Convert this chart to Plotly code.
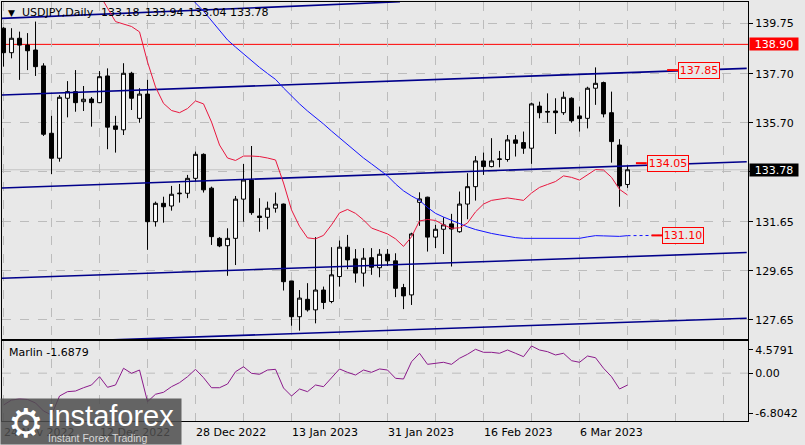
import plotly.graph_objects as go
import pandas as pd

# ---------------- data ----------------
dates = pd.bdate_range("2022-11-24", "2023-03-14")  # daily bars (Mon-Fri)

open_ = [139.56, 138.56, 139.15, 138.87, 138.67, 138.02, 135.27, 134.25, 136.70, 136.97,
         136.56, 136.67, 136.52, 137.61, 135.57, 135.41, 137.72, 135.88, 136.87, 131.66,
         132.41, 132.30, 132.80, 132.82, 133.43, 134.41, 133.03, 130.98, 130.68, 130.98,
         132.58, 133.36, 131.89, 131.84, 132.21, 132.38, 129.24, 127.78, 128.49, 128.06,
         128.87, 128.40, 129.42, 130.62, 130.14, 129.56, 130.19, 129.78, 130.33, 130.06,
         128.97, 128.67, 132.45, 132.66, 131.03, 131.35, 131.57, 131.25, 132.38, 133.09,
         134.14, 133.91, 134.20, 134.20, 135.00, 134.89, 134.66, 136.38, 136.13, 136.18,
         136.11, 136.70, 135.98, 135.88, 137.11, 137.34, 136.11, 134.79, 133.18]
high = [139.60, 139.56, 139.42, 139.36, 139.83, 138.13, 135.98, 136.83, 137.40, 137.85,
        137.20, 136.75, 137.81, 137.92, 135.98, 138.13, 137.78, 137.11, 137.45, 132.48,
        132.68, 133.12, 133.20, 133.57, 134.52, 134.45, 133.09, 131.03, 131.39, 132.71,
        134.02, 134.75, 132.62, 132.48, 132.85, 132.40, 129.24, 128.87, 129.15, 131.03,
        129.01, 130.62, 130.89, 131.12, 130.54, 130.58, 130.58, 130.54, 130.54, 130.37,
        129.12, 131.21, 132.86, 132.68, 131.53, 131.84, 131.98, 132.89, 133.64, 134.34,
        134.48, 135.07, 134.55, 135.20, 135.20, 135.34, 136.52, 136.56, 136.90, 136.70,
        136.97, 136.74, 136.36, 137.17, 137.96, 137.38, 136.97, 135.03, 133.94]
low = [137.99, 138.33, 137.45, 137.85, 137.61, 135.16, 133.60, 134.11, 135.92, 136.15,
       136.18, 135.54, 136.50, 134.62, 134.48, 135.20, 136.22, 135.70, 130.51, 131.46,
       131.62, 132.11, 132.44, 132.62, 133.30, 132.85, 130.71, 130.62, 129.45, 129.89,
       131.66, 131.94, 131.25, 131.35, 132.03, 128.85, 127.41, 127.21, 127.99, 127.51,
       128.09, 128.33, 129.01, 129.72, 129.17, 129.01, 129.49, 129.39, 129.85, 128.58,
       128.09, 128.26, 131.49, 130.44, 130.58, 130.34, 129.83, 131.21, 131.76, 132.52,
       133.57, 133.88, 133.88, 134.11, 134.32, 134.43, 134.02, 135.88, 135.70, 135.24,
       136.02, 135.70, 135.34, 135.47, 136.43, 135.92, 134.07, 132.27, 133.04]
close = [138.56, 139.15, 138.87, 138.64, 137.99, 135.23, 134.25, 136.74, 136.97, 136.52,
         136.66, 136.52, 137.58, 135.52, 135.43, 137.72, 136.70, 136.87, 131.66, 132.41,
         132.27, 132.78, 132.82, 133.43, 134.41, 132.96, 131.05, 130.67, 130.98, 132.58,
         133.36, 132.03, 131.83, 132.21, 132.38, 129.21, 127.78, 128.54, 128.06, 128.87,
         128.36, 129.49, 130.62, 130.10, 129.56, 130.17, 129.80, 130.33, 130.06, 128.94,
         128.63, 131.16, 132.59, 131.03, 131.35, 131.53, 131.36, 132.38, 133.09, 134.14,
         133.91, 134.14, 134.22, 135.00, 134.86, 134.66, 136.47, 136.11, 136.16, 136.11,
         136.74, 135.78, 135.87, 137.11, 137.31, 136.06, 134.93, 133.12, 133.78]

ma_red = [None] * 11 + [
    141.50, 140.92, 140.38, 139.83, 139.73, 139.63, 139.41, 138.18, 137.16, 136.49,
    136.20, 136.11, 136.28, 136.59, 136.47, 135.73, 134.79, 134.26, 134.16, 134.34,
    134.34, 134.32, 134.26, 134.18, 133.24, 132.14, 131.47, 131.00, 130.96, 131.10,
    131.53, 132.02, 132.16, 132.00, 131.73, 131.40, 131.28, 131.16, 130.96, 130.65,
    131.04, 131.69, 131.75, 131.71, 131.53, 131.39, 131.41, 131.61, 132.06, 132.38,
    132.53, 132.59, 132.63, 132.58, 132.53, 132.83, 133.06, 133.18, 133.30, 133.53,
    133.47, 133.36, 133.57, 133.79, 133.77, 133.47, 132.98, 132.75]

ma_blue = [None] * 23 + [
    141.00, 140.59, 140.26, 139.87, 139.49, 139.08, 138.79, 138.51, 138.22, 137.96,
    137.71, 137.47, 137.12, 136.79, 136.47, 136.18, 135.92, 135.65, 135.36, 135.08,
    134.79, 134.55, 134.26, 134.02, 133.77, 133.53, 133.20, 132.92, 132.71, 132.53,
    132.24, 132.00, 131.85, 131.71, 131.57, 131.45, 131.34, 131.25, 131.18, 131.12,
    131.06, 131.01, 130.98, 130.98, 130.98, 130.98, 130.98, 130.98, 130.98, 130.98,
    131.04, 131.09, 131.08, 131.06, 131.06, 131.09]

marlin = [-4.53, -3.82, -3.67, -3.74, -4.24, -5.38, -5.95, -3.25, -2.63, -2.54,
          -2.07, -1.68, -0.50, -2.01, -1.68, 0.70, -0.02, 0.45, -4.06, -3.00,
          -2.72, -1.92, -1.35, -0.50, 0.55, -0.64, -2.07, -2.07, -1.54, 0.21,
          0.92, -0.02, -0.16, 0.45, 0.55, -2.11, -3.25, -2.25, -2.63, -1.68,
          -1.92, -0.64, 0.60, 0.12, -0.26, 0.45, 0.12, 0.60, 0.45, -0.73,
          -0.83, 1.63, 2.83, 1.26, 1.41, 1.55, 1.26, 2.12, 2.69, 3.40,
          2.97, 2.97, 2.83, 3.30, 2.83, 2.35, 3.87, 3.30, 3.06, 2.59,
          2.83, 1.78, 1.55, 2.44, 2.20, 0.70, -0.50, -2.25, -1.6879]

date_ticks = ["24 Nov 2022", "12 Dec 2022", "28 Dec 2022", "13 Jan 2023",
              "31 Jan 2023", "16 Feb 2023", "6 Mar 2023"]
price_ticks = [127.65, 129.65, 131.65, 133.70, 135.70, 137.70, 139.75]
price_tick_text = ["127.65", "129.65", "131.65", "", "135.70", "137.70", "139.75"]
marlin_scale = [4.5791, 0.00, -6.8042]

level_red = 138.90
bid = 133.78
target_labels = [137.85, 134.05, 131.10]

# channel trend lines: (bar start, price start, bar end, price end)
channel_lines = [
    (-0.44, 139.96, 49.56, 140.64),
    (-0.44, 136.83, 92.9, 137.92),
    (-0.44, 133.03, 92.9, 134.11),
    (-0.44, 129.35, 92.9, 130.40),
    (-0.44, 126.68, 92.9, 127.72),
]

# ---------------- figure ----------------
BG = "#E8E8E8"
GRID = "#BCBCBC"
FONT = "DejaVu Sans"
NAVY = "#00008B"

W, H = 805, 445
L, R, T, B = 2, 748, 2, 421  # plot area in pixels
PW, PH = R - L, B - T


def px(xp):
    return (xp - L) / PW


def py(yp):
    return (B - yp) / PH


idx = list(range(len(dates)))
last = idx[-1]
tick_pos = [dates.get_loc(pd.Timestamp(d)) for d in date_ticks]
grid_pos = list(range(0, 96, 6))
xrange_ = [-0.19, 93.06]

fig = go.Figure()

fig.add_trace(go.Candlestick(
    x=idx, open=open_, high=high, low=low, close=close,
    increasing=dict(line=dict(color="black", width=1), fillcolor="white"),
    decreasing=dict(line=dict(color="black", width=1), fillcolor="black"),
    whiskerwidth=0, showlegend=False, hoverinfo="skip", xaxis="x", yaxis="y"))

for (x0, p0, x1, p1) in channel_lines:
    fig.add_trace(go.Scatter(x=[x0, x1], y=[p0, p1], mode="lines",
                             line=dict(color=NAVY, width=1.6), showlegend=False,
                             hoverinfo="skip", xaxis="x", yaxis="y"))

fig.add_trace(go.Scatter(x=idx, y=ma_blue, mode="lines",
                         line=dict(color="#1414FF", width=1), showlegend=False,
                         hoverinfo="skip", xaxis="x", yaxis="y"))
fig.add_trace(go.Scatter(x=idx, y=ma_red, mode="lines",
                         line=dict(color="#E8173F", width=1), showlegend=False,
                         hoverinfo="skip", xaxis="x", yaxis="y"))

# projection of the blue MA
fig.add_trace(go.Scatter(x=[last, last + 4], y=[ma_blue[-1], target_labels[2]], mode="lines",
                         line=dict(color="#1414FF", width=1, dash="dot"), showlegend=False,
                         hoverinfo="skip", xaxis="x", yaxis="y"))

# red leader segments + labels
label_left = [last + 6.3, last + 2.4, last + 4.35]
for val, xl in zip(target_labels, label_left):
    fig.add_trace(go.Scatter(x=[xl - 1.35, xl], y=[val, val], mode="lines",
                             line=dict(color="#FF0000", width=2), showlegend=False,
                             hoverinfo="skip", xaxis="x", yaxis="y"))
    fig.add_annotation(x=xl, y=val, xref="x", yref="y", text=f"{val:.2f}",
                       showarrow=False, xanchor="left", yanchor="middle",
                       font=dict(family=FONT, size=11, color="#FF0000"),
                       bgcolor=BG, bordercolor="#FF0000", borderwidth=1,
                       borderpad=1, width=38, height=13)

fig.add_trace(go.Scatter(x=idx, y=marlin, mode="lines",
                         line=dict(color="#8B1A8B", width=1), showlegend=False,
                         hoverinfo="skip", xaxis="x2", yaxis="y2"))

shapes = [
    dict(type="line", xref="paper", yref="y", x0=0, x1=1, y0=level_red, y1=level_red,
         line=dict(color="#FF0000", width=1), layer="below"),
    dict(type="line", xref="paper", yref="y", x0=0, x1=1, y0=bid, y1=bid,
         line=dict(color="#C4C4C4", width=1), layer="below"),
    dict(type="line", xref="paper", yref="y2", x0=0, x1=1, y0=0, y1=0,
         line=dict(color=GRID, width=1, dash="dash"), layer="below"),
]

axis_common = dict(showline=True, mirror=True, linecolor="black", linewidth=1,
                   zeroline=False, fixedrange=True)

fig.update_layout(
    width=W, height=H,
    margin=dict(l=L, r=W - R, t=T, b=H - B, pad=0),
    paper_bgcolor=BG, plot_bgcolor=BG,
    font=dict(family=FONT, size=11, color="black"),
    showlegend=False,
    shapes=shapes,
    xaxis=dict(domain=[0, 1], anchor="y", range=xrange_, tickvals=grid_pos,
               showticklabels=False, ticks="", showgrid=True, gridcolor=GRID,
               griddash="dash", gridwidth=1, rangeslider=dict(visible=False),
               **axis_common),
    yaxis=dict(domain=[py(339), 1], anchor="x", side="right",
               range=[126.87, 140.63], tickvals=price_ticks, ticktext=price_tick_text,
               ticks="outside", ticklen=4, tickcolor="black", showgrid=True,
               gridcolor=GRID, griddash="dash", gridwidth=1,
               tickfont=dict(family=FONT, size=11, color="black"), **axis_common),
    xaxis2=dict(domain=[0, 1], anchor="y2", range=xrange_, matches="x",
                tickvals=grid_pos, showticklabels=False, ticks="",
                showgrid=True, gridcolor=GRID, griddash="dash", gridwidth=1,
                **axis_common),
    yaxis2=dict(domain=[0, py(341)], anchor="x2", side="right",
                range=[marlin_scale[2], marlin_scale[0]],
                tickvals=[3.30, marlin_scale[1], -5.71],
                ticktext=[f"{marlin_scale[0]:.4f}", f"{marlin_scale[1]:.2f}",
                          f"{marlin_scale[2]:.4f}"],
                ticks="outside", ticklen=4, tickcolor="black", showgrid=False,
                tickfont=dict(family=FONT, size=11, color="black"), **axis_common),
)

# header texts
fig.add_annotation(xref="paper", yref="paper", x=px(11), y=py(12.5), text="▼",
                   showarrow=False, xanchor="center", yanchor="middle",
                   font=dict(family=FONT, size=9, color="black"))
fig.add_annotation(xref="paper", yref="paper", x=px(20), y=py(12.7), text="USDJPY,Daily",
                   showarrow=False, xanchor="left", yanchor="middle",
                   font=dict(family=FONT, size=11, color="black"))
for val, xp in zip([open_[-1], high[-1], low[-1], close[-1]], [99, 143, 186, 228]):
    fig.add_annotation(xref="paper", yref="paper", x=px(xp), y=py(12.7), text=f"{val:.2f}",
                       showarrow=False, xanchor="left", yanchor="middle",
                       font=dict(family=FONT, size=11, color="black"))
fig.add_annotation(xref="paper", yref="paper", x=px(6.5), y=py(352), text=f"Marlin {marlin[-1]:.4f}",
                   showarrow=False, xanchor="left", yanchor="middle",
                   font=dict(family=FONT, size=11, color="black"))

# right axis price boxes
fig.add_annotation(xref="paper", yref="y", x=px(749), y=level_red, text=f"{level_red:.2f}",
                   showarrow=False, xanchor="left", yanchor="middle",
                   font=dict(family=FONT, size=11, color="white"),
                   bgcolor="#FF0000", borderpad=0, width=48, height=12)
fig.add_annotation(xref="paper", yref="y", x=px(749), y=bid, text=f"{bid:.2f}",
                   showarrow=False, xanchor="left", yanchor="middle",
                   font=dict(family=FONT, size=11, color="white"),
                   bgcolor="black", borderpad=0, width=48, height=12)

# date labels (left-aligned at their bar)
for d, pos in zip(date_ticks, tick_pos):
    fig.add_annotation(xref="x2", yref="paper", x=pos, y=py(432.5), text=d,
                       showarrow=False, xanchor="left", yanchor="middle", xshift=-2,
                       font=dict(family=FONT, size=11, color="black"))

# watermark
fig.add_annotation(xref="paper", yref="paper", x=px(0), y=py(445), text=" ",
                   showarrow=False, xanchor="left", yanchor="bottom",
                   bgcolor="rgba(78,78,78,0.86)", borderpad=0, width=180, height=45)
fig.add_annotation(xref="paper", yref="paper", x=px(26), y=py(423), text="⚙",
                   showarrow=False, xanchor="center", yanchor="middle",
                   font=dict(family=FONT, size=40, color="white"))
fig.add_annotation(xref="paper", yref="paper", x=px(46), y=py(416), text="instaforex",
                   showarrow=False, xanchor="left", yanchor="middle",
                   font=dict(family="Liberation Sans", size=29, color="white"))
fig.add_annotation(xref="paper", yref="paper", x=px(46), y=py(437.5), text="Instant Forex Trading",
                   showarrow=False, xanchor="left", yanchor="middle",
                   font=dict(family="Liberation Sans", size=10.5, color="#D8D8D8"))

fig.write_html("out.html")
